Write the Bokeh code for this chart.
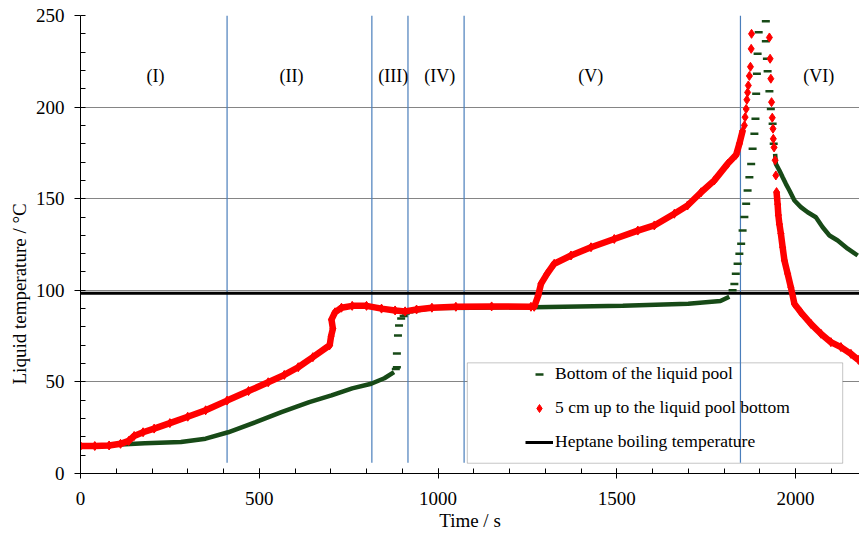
from bokeh.plotting import figure
from bokeh.models import (Range1d, SingleIntervalTicker, Legend, LegendItem,
                          Title, BoxAnnotation)
from bokeh.core.properties import value
from bokeh.embed import file_html
from bokeh.resources import INLINE

# ---------------- data ----------------
# 5 cm above the pool bottom (red diamonds) - densely sampled parts
red_t_1 = [0, 40, 80, 112, 135, 150, 175, 206, 250, 300, 350, 410, 470, 525, 570,
           609, 650, 697, 701, 706, 702, 712, 730, 760, 800, 842, 880, 908, 940,
           983, 1050, 1150, 1260, 1269, 1280, 1288, 1305, 1325, 1372, 1428, 1493,
           1559, 1605, 1661, 1698, 1736, 1773, 1810, 1834, 1843, 1852]
red_T_1 = [15.0, 15.0, 15.3, 16.2, 17.8, 20.5, 22.5, 24.5, 27.5, 31.0, 34.5, 39.8,
           45.0, 49.8, 53.8, 58.0, 63.5, 70.0, 75.0, 79.0, 84.0, 88.0, 90.5, 91.5,
           91.5, 90.0, 89.0, 88.5, 89.5, 90.5, 91.0, 91.2, 91.0, 91.0, 97.0, 103.5,
           109.0, 114.5, 119.0, 123.5, 128.0, 132.6, 135.4, 141.8, 146.3, 153.5,
           160.0, 169.0, 174.0, 180.0, 187.0]
# sparse points around the peak
red_peak_t = [1857, 1859, 1862, 1864, 1866, 1868, 1871, 1874, 1876, 1877, 1927, 1929,
              1931, 1933, 1935, 1937, 1938, 1940, 1943, 1945]
red_peak_T = [190.0, 194.5, 199.0, 204.0, 208.0, 211.8, 217.0, 222.0, 231.8, 240.0,
              238.0, 226.4, 215.5, 202.7, 194.2, 188.2, 182.7, 178.0, 171.0, 162.7]
red_t_2 = [1947, 1950, 1952, 1955, 1959, 1964, 1969, 1978, 1987, 1997, 2015, 2043,
           2071, 2099, 2127, 2155, 2176]
red_T_2 = [153.6, 147.0, 141.0, 136.0, 131.0, 123.5, 116.3, 109.0, 101.7, 92.6, 88.0,
           81.7, 76.3, 71.7, 69.0, 65.3, 62.0]

# bottom of the liquid pool (green dashes)
green_t_1 = [0, 60, 112, 180, 281, 350, 413, 490, 562, 640, 702, 760, 813, 850, 877]
green_T_1 = [15.0, 15.3, 15.8, 16.5, 17.2, 19.0, 22.5, 28.0, 33.5, 39.0, 42.6, 46.5,
             49.0, 52.0, 55.3]
green_jump_t = [882, 885, 885, 888, 891, 897, 904, 910, 920, 933]
green_jump_T = [57.0, 58.0, 65.5, 75.3, 80.8, 84.6, 86.0, 87.3, 88.0, 88.6]
green_t_2 = [940, 983, 1100, 1269, 1517, 1700, 1790, 1815]
green_T_2 = [89.0, 90.3, 90.5, 90.8, 91.5, 92.6, 94.2, 96.5]
green_peak_t = [1824, 1829, 1833, 1838, 1843, 1848, 1852, 1857, 1862, 1866, 1871, 1876,
                1880, 1885, 1888, 1890, 1892, 1894, 1897, 1917, 1917, 1920, 1922, 1927,
                1931, 1936, 1939]
green_peak_T = [100.0, 103.5, 109.0, 114.5, 120.0, 125.4, 132.6, 140.0, 147.2, 154.5,
                161.7, 169.0, 177.2, 185.4, 193.6, 207.3, 218.2, 229.1, 240.9, 246.9,
                236.0, 226.4, 219.6, 208.7, 199.0, 190.9, 180.0]
green_t_3 = [1943, 1945, 1955, 1964, 1973, 1983, 1997, 2015, 2034, 2057, 2076, 2095,
             2118, 2146, 2174]
green_T_3 = [174.5, 169.0, 165.4, 161.7, 158.1, 154.5, 149.0, 145.4, 142.6, 139.9,
             134.4, 129.9, 127.2, 122.7, 119.0]

heptane_bp = 98.4
phase_bounds = [410, 815, 916, 1073, 1846]
phase_bottom = 5.8
region_names = ["(I)", "(II)", "(III)", "(IV)", "(V)", "(VI)"]
region_t = [210, 590, 875, 1005, 1427, 2065]
region_T = [217, 217, 217, 217, 217, 217]

TIME_MIN, TIME_MAX = 0, 2179
TEMP_MIN, TEMP_MAX = 0, 250

legend_labels = ["Bottom of the liquid pool", "5 cm up to the liquid pool bottom",
                 "Heptane boiling temperature"]

RED = "#ff0000"
GREEN = "#174a17"
FONT = "Liberation Serif"

# ---------------- figure ----------------
p = figure(width=859, height=535, output_backend="svg", toolbar_location=None,
           x_range=Range1d(TIME_MIN, TIME_MAX), y_range=Range1d(TEMP_MIN, TEMP_MAX),
           min_border_left=80, min_border_right=0, min_border_top=15,
           min_border_bottom=62)
p.outline_line_color = None
p.background_fill_color = "white"

p.xaxis.ticker = SingleIntervalTicker(interval=500, num_minor_ticks=5)
p.yaxis.ticker = SingleIntervalTicker(interval=50, num_minor_ticks=5)
p.xgrid.visible = False
p.ygrid.ticker = SingleIntervalTicker(interval=50)
p.ygrid.grid_line_color = "#858585"
p.ygrid.grid_line_width = 1

for ax in (p.xaxis[0], p.yaxis[0]):
    ax.axis_line_color = "black"
    ax.major_tick_line_color = "black"
    ax.minor_tick_line_color = "black"
    ax.major_label_text_font = FONT
    ax.major_label_text_font_size = "19px"
    ax.major_label_text_color = "black"
    ax.axis_label_text_font = FONT
    ax.axis_label_text_font_size = "19px"
    ax.axis_label_text_font_style = "normal"
    ax.axis_label_text_color = "black"

p.xaxis.major_tick_in = 5
p.xaxis.major_tick_out = 5
p.xaxis.minor_tick_in = 5
p.xaxis.minor_tick_out = 0
p.xaxis.major_label_standoff = 13
p.xaxis.axis_label = "Time / s"
p.xaxis.axis_label_standoff = 2

p.yaxis.major_tick_in = 0
p.yaxis.major_tick_out = 6
p.yaxis.minor_tick_in = 5
p.yaxis.minor_tick_out = 0
p.yaxis.major_label_standoff = 10

# y axis title, placed left of the axis, starting above the frame bottom
p.add_layout(Title(text="Liquid temperature  / °C", align="left", offset=89,
                   text_font=FONT, text_font_size="19px", text_font_style="normal",
                   text_color="black", standoff=5), "left")

# legend frame (white box over the grid, under the glyphs)
box = BoxAnnotation(left=1082, right=2132, bottom=5.6, top=60.4, level="underlay",
                    fill_color="white", fill_alpha=1.0, line_color="#404040",
                    line_width=1)
p.add_layout(box)

# phase boundaries
p.segment(x0=phase_bounds, y0=[phase_bottom] * len(phase_bounds),
          x1=phase_bounds, y1=[TEMP_MAX] * len(phase_bounds),
          line_color="#4a7ebb", line_width=1.2)

# heptane boiling temperature
hep = p.line(x=[TIME_MIN, TIME_MAX], y=[heptane_bp, heptane_bp],
             line_color="black", line_width=3)

# green: bottom of the liquid pool
for tt, TT in ((green_t_1, green_T_1), (green_t_2, green_T_2), (green_t_3, green_T_3)):
    p.line(x=tt, y=TT, line_color=GREEN, line_width=4.5)
g_sc = p.scatter(x=green_jump_t, y=green_jump_T, marker="dash", size=8,
                 line_color=GREEN, line_width=2.5)
p.scatter(x=green_peak_t, y=green_peak_T, marker="dash", size=8,
          line_color=GREEN, line_width=2.5)

# red: 5 cm above the bottom
for tt, TT in ((red_t_1, red_T_1), (red_t_2, red_T_2)):
    p.line(x=tt, y=TT, line_color=RED, line_width=6.5)
    p.scatter(x=tt, y=TT, marker="diamond", size=9, fill_color=RED, line_color=RED)
r_sc = p.scatter(x=red_peak_t, y=red_peak_T, marker="diamond", size=9,
                 fill_color=RED, line_color=RED)

# region labels
p.text(x=region_t, y=region_T, text=region_names, text_font=value(FONT),
       text_font_size=value("18px"), text_align="center", text_baseline="middle",
       text_color="black")

legend = Legend(items=[LegendItem(label=legend_labels[0], renderers=[g_sc]),
                       LegendItem(label=legend_labels[1], renderers=[r_sc]),
                       LegendItem(label=legend_labels[2], renderers=[hep])],
                location=(445, 21), margin=0, padding=0, spacing=13,
                glyph_width=28, glyph_height=20, label_height=20, label_standoff=2,
                label_text_font=FONT, label_text_font_size="17.5px",
                label_text_color="black", background_fill_alpha=0,
                border_line_alpha=0)
p.add_layout(legend)

open("out.html", "w").write(file_html(p, INLINE))
